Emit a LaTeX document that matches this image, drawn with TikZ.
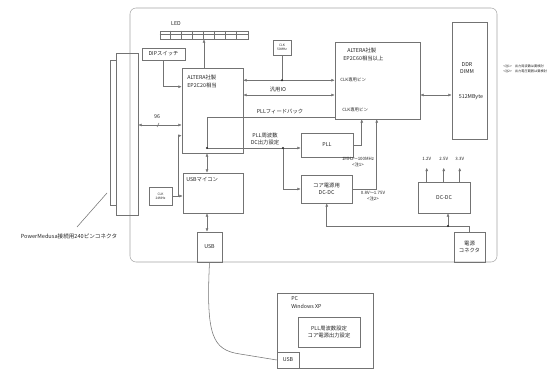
\documentclass[tikz,border=0pt]{standalone}
\usepackage{fontspec}
\setmainfont{Noto Sans CJK JP}
\usetikzlibrary{arrows.meta,fit,calc}
\begin{document}
\begin{tikzpicture}[x=0.75pt,y=-0.75pt,
  ln/.style={draw=black!55, line width=0.4pt},
  box/.style={ln, rectangle, inner sep=0pt},
  txt/.style={font=\fontsize{4}{4.8}\selectfont, inner sep=0pt, align=center, text=black!85},
  smalltxt/.style={font=\fontsize{2.4}{2.9}\selectfont, inner sep=0pt, align=center, text=black!85},
  midtxt/.style={font=\fontsize{3.3}{4.2}\selectfont, inner sep=0pt, align=center, text=black!85},
  arr/.style={ln, -{Latex[length=2.6pt,width=2.2pt]}},
  darr/.style={ln, {Latex[length=2.6pt,width=2.2pt]}-{Latex[length=2.6pt,width=2.2pt]}},
  jdot/.style={circle, fill=black!85, inner sep=0pt, minimum size=1.7pt},
]
\useasboundingbox (0,0) rectangle (558,370);
\fill[white] (0,0) rectangle (558,370);

% board
\node[box, draw=black!35, rounded corners=4.5pt, fit={(130,8)(497,262)}] (board) {};

% 240 pin connector
\node[box, fit={(116,53)(138,215)}] (conA) {};
\node[box, fit={(110,60)(116,205)}] (conB) {};
\node[txt, font=\fontsize{4.2}{5}\selectfont] (conlbl) at (69,236) {PowerMedusa接続用240ピンコネクタ};
\coordinate (lblTip) at (77,227);
\coordinate (conPt) at (107,193);
\draw[ln] (lblTip) -- (conPt);

% LED
\node[box, fit={(160,31)(248,39)}] (led) {};
\draw[ln] (led.west |- 0,34) -- (led.east |- 0,34);
\foreach \i in {1,...,7} {\draw[ln] ($(led.north west)+(11*\i,0)$) -- ($(led.south west)+(11*\i,0)$);}
\node[txt] (ledlbl) at (176,24) {LED};

% DIP switch
\node[box, fit={(142,48)(185,60)}] (dip) {};
\node[txt] at (dip.center) {DIPスイッチ};

% ALTERA 1
\node[box, fit={(182,68)(243,153)}] (alt1) {};
\node[txt, anchor=west] at (187,77) {ALTERA社製};
\node[txt, anchor=west] at (187,85) {EP2C20相当};

% CLK 1
\node[box, fit={(273,40)(291,55)}] (clk1) {};
\node[smalltxt] at (clk1.center) {CLK\\50MHz};

% ALTERA 2
\node[box, fit={(335,42)(420,119)}] (alt2) {};
\node[txt, anchor=west] at (347,50) {ALTERA社製};
\node[txt, anchor=west] at (343,58) {EP2C60相当以上};
\node[midtxt, anchor=west] at (340,80) {CLK専用ピン};
\node[midtxt, anchor=west] at (342,110) {CLK専用ピン};

% DDR
\node[box, fit={(452,22)(487,139)}] (ddr) {};
\node[txt] at (467,65) {DDR};
\node[txt] at (467,72) {DIMM};
\node[txt] at (471,97) {512MByte};

% notes
\node[smalltxt, anchor=west] (note1) at (503,66) {<注1>　出力周波数は要検討};
\node[smalltxt, anchor=west] (note2) at (503,71) {<注2>　出力電圧範囲は要検討};

% PLL
\node[box, fit={(301,133)(353,157)}] (pll) {};
\node[txt] at (pll.center) {PLL};

% core DC-DC
\node[box, fit={(301,175)(352,203)}] (core) {};
\node[txt] at (core.center) {コア電源用\\DC-DC};

% DC-DC
\node[box, fit={(418,182)(470,213)}] (dcdc) {};
\node[txt] at (dcdc.center) {DC-DC};

% power connector
\node[box, fit={(454,232)(485,262)}] (pwr) {};
\node[txt] at (pwr.center) {電源\\コネクタ};

% USB micon
\node[box, fit={(183,173)(243,213)}] (umc) {};
\node[txt, anchor=west] at (186,180) {USBマイコン};

% CLK 2
\node[box, fit={(149,187)(172,205)}] (clk2) {};
\node[smalltxt] at (clk2.center) {CLK\\24MHz};

% USB on board
\node[box, fit={(197,232)(222,262)}] (usb) {};
\node[txt] at (usb.center) {USB};

% PC
\node[box, fit={(277,293)(373,368)}] (pc) {};
\node[txt, anchor=west] at (291,299) {PC};
\node[txt, anchor=west] at (291,306) {Windows XP};
\node[box, fit={(298,317)(360,347)}] (pcin) {};
\node[txt] at (pcin.center) {PLL周波数設定\\コア電源出力設定};
\node[box, fit={(277,352)(299,368)}] (pcusb) {};
\node[txt] at (pcusb.center) {USB};

% ---- connectors ----
\draw[arr] (alt1.north -| led.south) -- (led.south);
\draw[arr] (dip.south) |- ($(alt1.north west)+(0,19)$);

\path (clk1.south) ++(0,25) coordinate (j1);
\draw[ln] (clk1.south) -- (j1);
\draw[arr] (j1) -- (j1 -| alt1.east);
\draw[arr] (j1) -- (j1 -| alt2.west);
\node[jdot] at (j1) {};

\coordinate (g) at (290,95);
\draw[darr] (g -| alt1.east) -- (g -| alt2.west);
\node[txt] at (278,90) {汎用IO};
\draw[darr] (g -| alt2.east) -- (g -| ddr.west);

\coordinate (fb) at (207,117);
\coordinate (j2) at (207,148);
\coordinate (j3) at (283,148);
\draw[ln] (fb -| alt2.west) -- (fb) -- (j2);
\node[txt] at (280,112) {PLLフィードバック};
\draw[ln] (j2) -- (j3);
\draw[arr] (j3) -- (j3 -| pll.west);
\draw[arr] (j3) |- (core.west);
\node[jdot] at (j2) {};
\node[jdot] at (j3) {};
\node[txt] at (265,139) {PLL周波数\\DC出力設定};

\draw[darr] (alt1.south -| j2) -- (umc.north -| j2);
\draw[darr] (umc.south -| j2) -- (usb.north -| j2);

\path (clk2.east) ++(6,0) coordinate (j4);
\draw[arr] (clk2.east) -- (umc.west |- clk2.east);
\draw[arr] (j4) |- ($(alt1.north west)+(0,68)$);

\coordinate (b96) at (160,125);
\draw[darr] (conA.east |- b96) -- (alt1.west |- b96);
\draw[ln] ($(b96)+(-3,2)$) -- ($(b96)+(-1,-2)$);
\node[txt] at (157,117) {96};

\draw[arr] (pll.east) -| ($(alt2.south west)+(27,0)$);
\draw[arr] (core.east) -| ($(alt2.south west)+(42,0)$);
\node[midtxt] at (358,162) {1MHz〜100MHz\\<注1>};
\node[midtxt] at (373,196) {0.8V〜1.75V\\<注2>};

\foreach \dx/\v in {9/1.2V,26/2.5V,42/3.3V} {
  \draw[arr] ($(dcdc.north west)+(\dx,0)$) -- ++(0,-14);
  \node[midtxt] at ($(dcdc.north west)+(\dx,-23)$) {\v};
}

\coordinate (pw) at (448,226);
\draw[ln] (pwr.north) |- (pw);
\draw[arr] (pw) -- (pw |- dcdc.south);
\draw[arr] (pw) -| ($(core.south west)+(26,0)$);
\node[jdot] at (pw) {};

\draw[ln] (usb.south) .. controls (206,335) and (212,350) .. (240,354) -- (pcusb.west);
\end{tikzpicture}
\end{document}
